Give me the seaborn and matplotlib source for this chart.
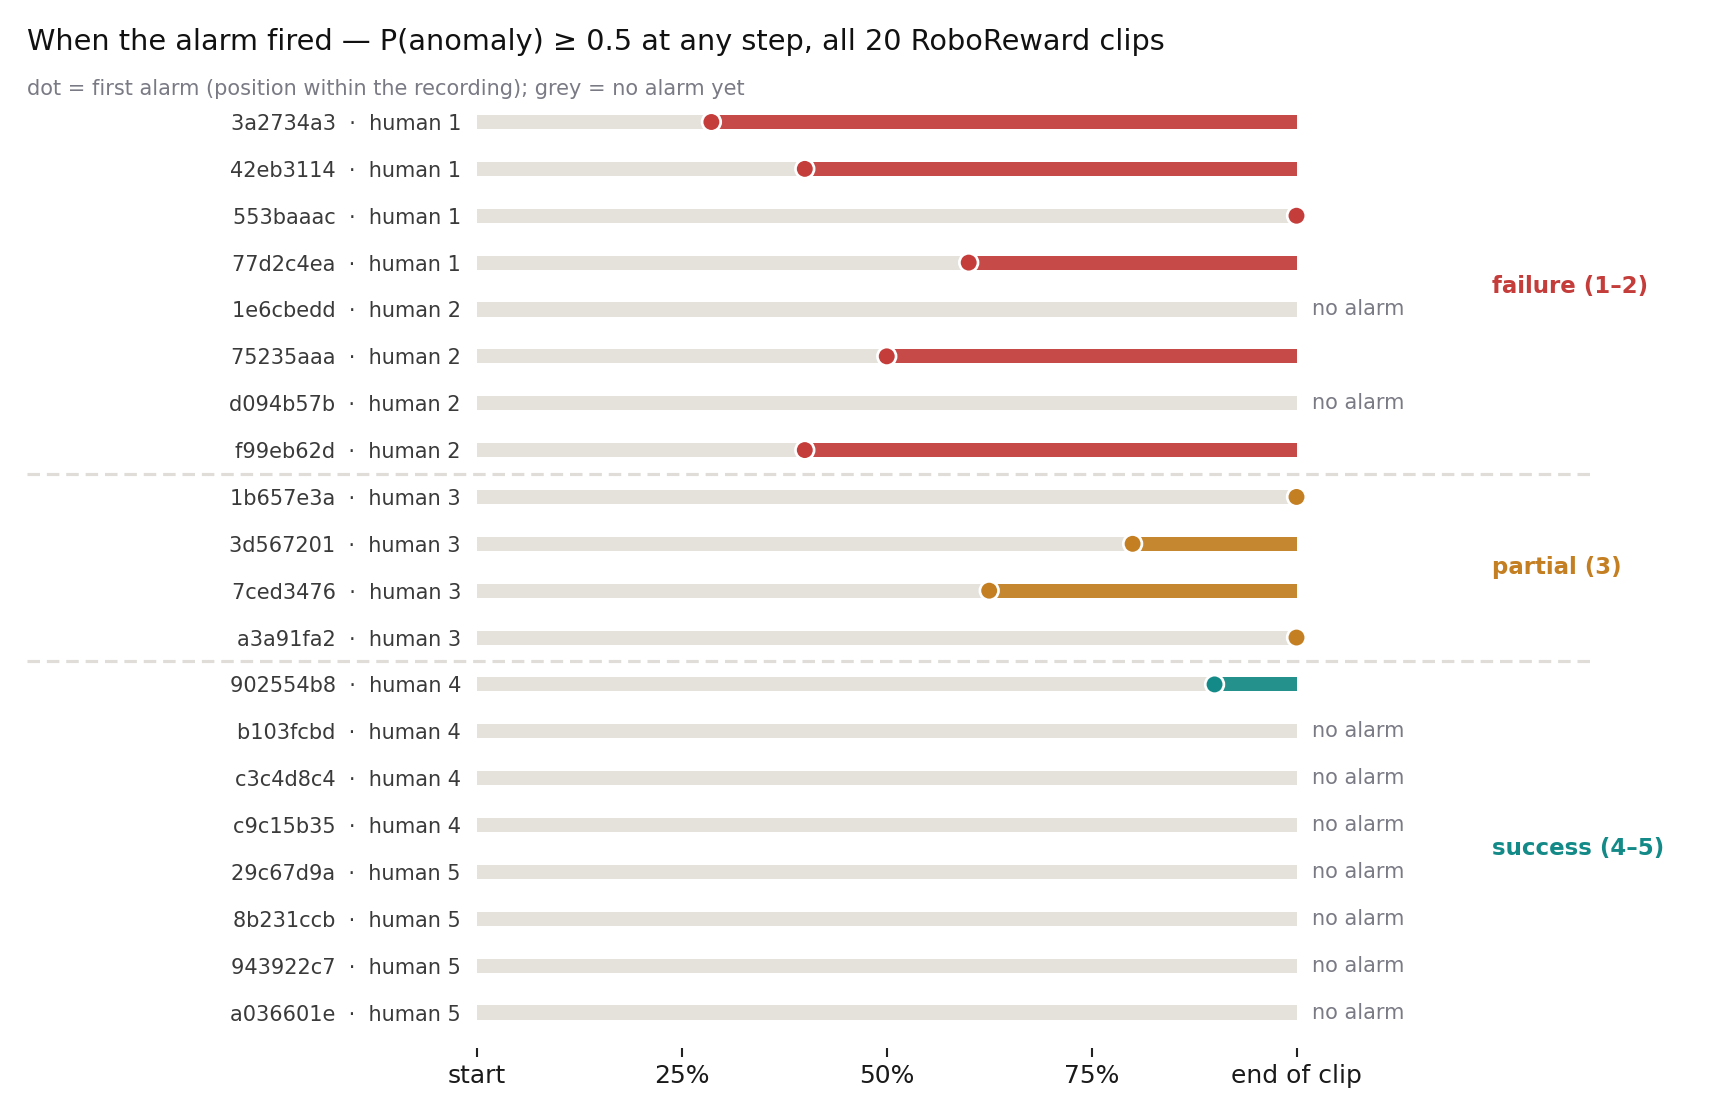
import numpy as np
import pandas as pd
import matplotlib
matplotlib.use("Agg")
import matplotlib.pyplot as plt
import matplotlib.transforms as mtransforms
from matplotlib.lines import Line2D
import seaborn as sns

# ---------------- data ----------------
clip_ids = ["3a2734a3", "42eb3114", "553baaac", "77d2c4ea", "1e6cbedd", "75235aaa",
            "d094b57b", "f99eb62d", "1b657e3a", "3d567201", "7ced3476", "a3a91fa2",
            "902554b8", "b103fcbd", "c3c4d8c4", "c9c15b35", "29c67d9a", "8b231ccb",
            "943922c7", "a036601e"]
human_scores = [1, 1, 1, 1, 2, 2, 2, 2, 3, 3, 3, 3, 4, 4, 4, 4, 5, 5, 5, 5]
# first alarm position as fraction of the clip (NaN = no alarm)
first_alarm = [0.286, 0.40, 1.00, 0.60, np.nan, 0.50, np.nan, 0.40,
               1.00, 0.80, 0.625, 1.00,
               0.90, np.nan, np.nan, np.nan, np.nan, np.nan, np.nan, np.nan]
groups = ["failure (1–2)"] * 8 + ["partial (3)"] * 4 + ["success (4–5)"] * 8
group_names = ["failure (1–2)", "partial (3)", "success (4–5)"]
group_colors = ["#C43D3B", "#C47F22", "#138A87"]
x_ticks = [0, 0.25, 0.5, 0.75, 1.0]
x_ticklabels = ["start", "25%", "50%", "75%", "end of clip"]

title = "When the alarm fired — P(anomaly) ≥ 0.5 at any step, all 20 RoboReward clips"
subtitle = "dot = first alarm (position within the recording); grey = no alarm yet"

# ---------------- frame ----------------
df = pd.DataFrame({
    "clip": clip_ids,
    "human": human_scores,
    "alarm": first_alarm,
    "group": groups,
})
df["pos"] = np.arange(len(df))
df["label"] = [f"{c}  ·  human {h}" for c, h in zip(df["clip"], df["human"])]
palette = dict(zip(group_names, group_colors))

sns.set_theme(style="white")
plt.rcParams["font.family"] = ["DejaVu Sans"]

W, H, DPI = 1710, 1116, 150
fig = plt.figure(figsize=(W / DPI, H / DPI), dpi=DPI)
fig.patch.set_facecolor("white")

x0_px, x1_px = 477, 1296.5
row0_px, rowN_px = 122, 1012.5
n = len(df)
row_h = (rowN_px - row0_px) / (n - 1)
pad_rows = 0.75
top_px = row0_px - pad_rows * row_h
bot_px = rowN_px + pad_rows * row_h
ax = fig.add_axes([x0_px / W, 1 - bot_px / H, (x1_px - x0_px) / W, (bot_px - top_px) / H])
ax.patch.set_visible(False)

bar_h = 0.30
grey = "#E5E2DC"

# grey background bars (whole clip)
ax.barh(df["pos"], [1.0] * n, left=0, height=bar_h, color=grey, linewidth=0, zorder=1)

# colored segments from first alarm to end of clip
alarmed = df.dropna(subset=["alarm"])
for _, r in alarmed.iterrows():
    if r["alarm"] < 1.0:
        ax.barh(r["pos"], 1.0 - r["alarm"], left=r["alarm"], height=bar_h,
                color=palette[r["group"]], alpha=0.92, linewidth=0, zorder=2)

# dots at first alarm
sns.scatterplot(data=alarmed, x="alarm", y="pos", hue="group", palette=palette,
                hue_order=group_names, s=80, edgecolor="white", linewidth=1.3,
                legend=False, zorder=4, clip_on=False, ax=ax)

# "no alarm" notes
for _, r in df[df["alarm"].isna()].iterrows():
    ax.annotate("no alarm", xy=(1.0, r["pos"]), xytext=(7.5, 0),
                textcoords="offset points", va="center", ha="left",
                fontsize=10, color="#7A7A85")

ax.set_xlim(0, 1.0)
ax.set_ylim(n - 1 + pad_rows, -pad_rows)
ax.set_xlabel("")
ax.set_ylabel("")
ax.set_xticks(x_ticks)
ax.set_xticklabels(x_ticklabels, fontsize=12, color="#1a1a1a")
ax.set_yticks(df["pos"])
ax.set_yticklabels(df["label"], fontsize=10, color="#3A3A3A")
ax.tick_params(axis="y", length=0, pad=7.7)
ax.tick_params(axis="x", length=4.5, width=1.0, color="#222222", pad=3.2, direction="out",
               bottom=True)
for s in ax.spines.values():
    s.set_visible(False)
ax.grid(False)

# separators between groups, spanning the figure
blend = mtransforms.blended_transform_factory(fig.transFigure, ax.transData)
for ysep in [7.5, 11.5]:
    ln = Line2D([27 / W, 1592 / W], [ysep, ysep], transform=blend,
                color="#E0DDD8", lw=1.5, ls=(0, (4, 2.2)), zorder=1)
    fig.add_artist(ln)

# group labels on the right
for gname, gcol in zip(group_names, group_colors):
    rows = df.loc[df["group"] == gname, "pos"]
    ymid = (rows.min() + rows.max()) / 2
    fig.text(1492 / W, ymid, gname, transform=blend, ha="left", va="center",
             fontsize=11, fontweight="bold", color=gcol)

# title and subtitle
fig.text(27 / W, 1 - 42 / H, title, ha="left", va="center", fontsize=13.8, color="#111111")
fig.text(27 / W, 1 - 89 / H, subtitle, ha="left", va="center", fontsize=10, color="#7A7A85")

fig.savefig("out.png", dpi=DPI, facecolor="white")
